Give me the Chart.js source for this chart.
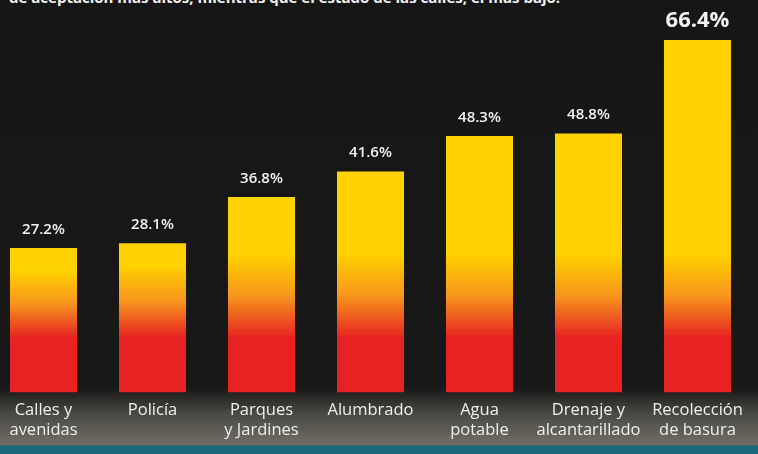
<!DOCTYPE html>
<html>
<head>
<meta charset="utf-8">
<script src="https://cdn.jsdelivr.net/npm/chart.js@4.4.1/dist/chart.umd.min.js"></script>
<style>
  html, body { margin: 0; padding: 0; }
  body {
    width: 758px; height: 454px; overflow: hidden; position: relative;
    background: linear-gradient(to bottom, #161616 0px, #181818 388px, #4a4944 414px, #6e6c62 443px, #6e6c62 445px, #1b6a7c 446px, #1b6a7c 454px);
  }
  #intro {
    position: absolute; left: 9px; top: -13px; white-space: nowrap;
    color: #f2f2f2; font: bold 15px "Open Sans", sans-serif;
  }
  #wrap { position: absolute; left: -11px; top: 0; width: 763px; height: 454px; }
</style>
</head>
<body>
<div id="intro">de aceptación más altos, mientras que el estado de las calles, el más bajo.</div>
<div id="wrap"><canvas id="myChart"></canvas></div>
<script>
// categorias y porcentajes
const servicios = [
  ['Calles y', 'avenidas'],
  'Policía',
  ['Parques', 'y Jardines'],
  'Alumbrado',
  ['Agua', 'potable'],
  ['Drenaje y', 'alcantarillado'],
  ['Recolección', 'de basura']
];
const aceptacion = [27.2, 28.1, 36.8, 41.6, 48.3, 48.8, 66.4];

const amarillo = '#ffd200';
const naranja = '#f7941d';
const rojo = '#e62222';

// degradado amarillo -> rojo, el rojo siempre en la parte baja
function barGradient(context) {
  const chart = context.chart;
  if (!chart.chartArea) return rojo;
  const y = chart.scales.y;
  const top = y.getPixelForValue(context.raw);
  const base = y.getPixelForValue(0);
  const h = base - top;
  const g = chart.ctx.createLinearGradient(0, top, 0, base);
  const yellowEnd = Math.max(top + 22, 255);
  const redStart = Math.max(top + 75, 338);
  const mid = (yellowEnd + redStart) / 2;
  const f = v => Math.min(1, Math.max(0, (v - top) / h));
  g.addColorStop(0, amarillo);
  g.addColorStop(f(yellowEnd), amarillo);
  g.addColorStop(f(mid), naranja);
  g.addColorStop(f(redStart), rojo);
  g.addColorStop(1, rojo);
  return g;
}

const valueLabels = {
  id: 'valueLabels',
  afterDatasetsDraw(chart) {
    const ctx = chart.ctx;
    const meta = chart.getDatasetMeta(0);
    const last = aceptacion.length - 1;
    ctx.save();
    ctx.fillStyle = '#f2f2f2';
    ctx.textAlign = 'center';
    ctx.textBaseline = 'bottom';
    meta.data.forEach((bar, i) => {
      ctx.font = i === last ? 'bold 22px "Open Sans", sans-serif' : '600 15px "Open Sans", sans-serif';
      ctx.fillText(aceptacion[i].toFixed(1) + '%', bar.x, bar.y - (i === last ? 8 : 11));
    });
    ctx.restore();
  }
};

const ctx = document.getElementById('myChart').getContext('2d');
const myChart = new Chart(ctx, {
  type: 'bar',
  data: {
    labels: servicios,
    datasets: [{
      data: aceptacion,
      backgroundColor: barGradient,
      borderWidth: 0,
      barPercentage: 0.615,
      categoryPercentage: 1
    }]
  },
  options: {
    responsive: true,
    maintainAspectRatio: false,
    animation: false,
    layout: { padding: { top: 40, bottom: 14, left: 0, right: 0 } },
    plugins: {
      legend: { display: false },
      tooltip: { enabled: false }
    },
    scales: {
      y: {
        min: 0,
        max: 66.4,
        display: false
      },
      x: {
        grid: { display: false },
        border: { display: false },
        ticks: {
          color: '#efefef',
          padding: 0,
          maxRotation: 0,
          autoSkip: false,
          font: { family: 'Open Sans', size: 16.5, lineHeight: 1.2 }
        }
      }
    }
  },
  plugins: [valueLabels]
});
</script>
</body>
</html>
